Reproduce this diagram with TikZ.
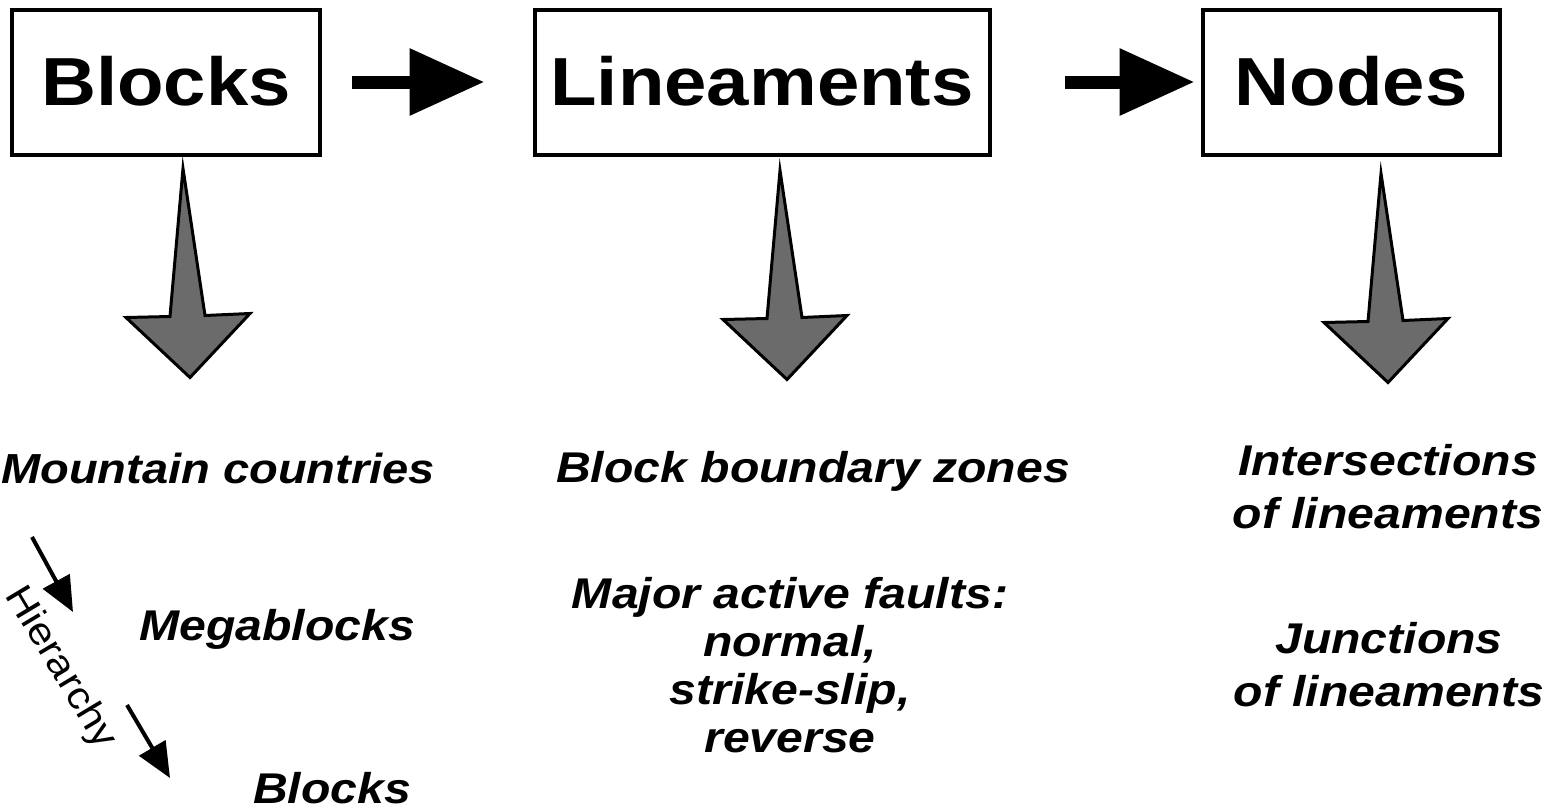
\documentclass[tikz,border=0pt]{standalone}
\usepackage{fontspec}
\setmainfont[FakeStretch=1.12]{Liberation Sans}
\usetikzlibrary{arrows.meta,positioning}

\begin{document}
\begin{tikzpicture}[
    x=1pt, y=-1pt,
    headbox/.style={rectangle, draw=black, line width=4pt, minimum height=145pt,
                    inner sep=0pt, font=\bfseries\fontsize{68}{80}\selectfont},
    itemtext/.style={anchor=base, align=center,
                     font=\bfseries\itshape\fontsize{43}{53}\selectfont},
    flowarrow/.style={line width=13pt, -{Triangle[length=75pt, width=64pt]}},
    rankarrow/.style={line width=4pt, -{Triangle[length=35pt, width=30pt]}},
    fatarrow/.pic={
        \filldraw[fill=black!58, draw=black, line width=3pt]
            (0,0) -- (-64,-60) -- (-20,-61) -- (-7,-209) -- (15,-62) -- (60,-64) -- cycle;
    }
]
\useasboundingbox (0,0) rectangle (1549,809);

% Top row
\node[headbox, minimum width=308pt] (blocks) at (166,82) {\raisebox{3pt}{Blocks}};
\node[headbox, minimum width=455pt] (lineaments) at (762,82) {\raisebox{3pt}{Lineaments}};
\node[headbox, minimum width=297pt] (nodes) at (1351,82) {\raisebox{3pt}{Nodes}};

\draw[flowarrow, shorten <=30pt, shorten >=48pt] (blocks) -- (lineaments);
\draw[flowarrow, shorten <=73pt, shorten >=6pt] (lineaments) -- (nodes);

% Big arrows down
\path (blocks.south) ++(24,221) pic {fatarrow};
\path (lineaments.south) ++(25,223) pic {fatarrow};
\path (nodes.south) ++(37,226) pic {fatarrow};

% Blocks column
\node[itemtext, font=\bfseries\itshape\fontsize{42}{50}\selectfont] (mountain) at (218,483) {Mountain countries};
\node[itemtext] (mega) at (277,640) {Megablocks};
\node[itemtext] (subblocks) at (332,803) {Blocks};

\coordinate (rank1) at (32,537);
\coordinate (rank1end) at (73,612);
\coordinate (rank2) at (127,705);
\coordinate (rank2end) at (170,778);
\draw[rankarrow] (rank1) -- (rank1end);
\draw[rankarrow] (rank2) -- (rank2end);
\node[rotate=-59, font=\fontsize{38}{46}\selectfont] (hier) at (60,668) {Hierarchy};

% Lineaments column
\node[itemtext] (zones) at (813,482) {Block boundary zones};
\node[itemtext, font=\bfseries\itshape\fontsize{43}{48}\selectfont] (faults) at (790,752)
    {Major active faults:\\normal,\\strike-slip,\\reverse};

% Nodes column
\node[itemtext] (intersect) at (1388,528) {Intersections\\of lineaments};
\node[itemtext] (junctions) at (1389,706) {Junctions\\of lineaments};

\end{tikzpicture}
\end{document}
